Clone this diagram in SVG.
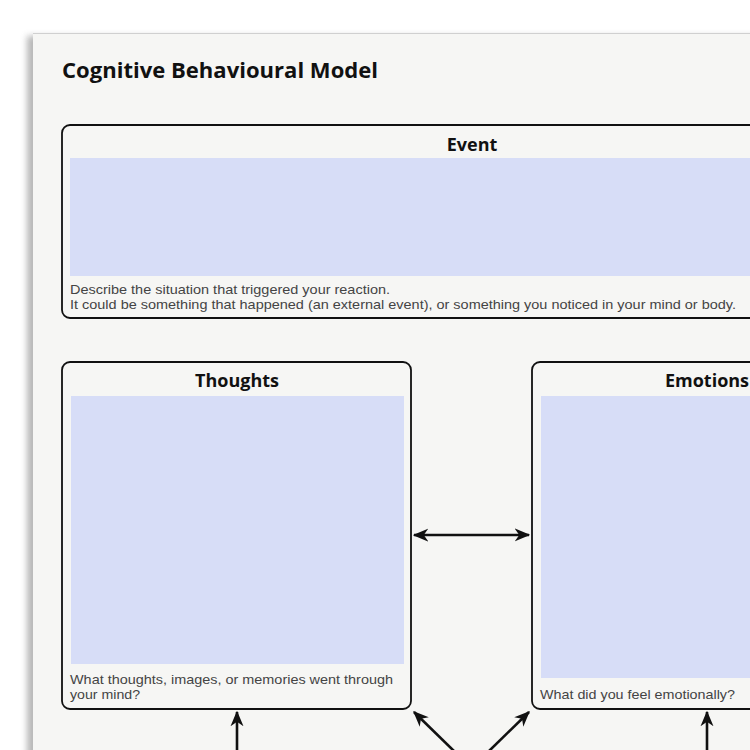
<svg xmlns="http://www.w3.org/2000/svg" width="750" height="750" viewBox="0 0 750 750">
  <defs>
    <style>
      .box { fill: none; stroke: #111; stroke-width: 1.8; }
      .area { fill: #d7ddf7; }
      .title { font-family: "Open Sans", "Liberation Sans", sans-serif; font-weight: bold; font-size: 18px; fill: #111; text-anchor: middle; }
      .desc { font-family: "Liberation Sans", "Open Sans", sans-serif; font-size: 13px; fill: #444; }
      .conn { stroke: #111; stroke-width: 2.6; fill: none; }
    </style>
    <marker id="ah" viewBox="0 0 12 10" refX="11" refY="5" markerWidth="6" markerHeight="5.5" orient="auto-start-reverse" markerUnits="strokeWidth">
      <path d="M0,0 L12,5 L0,10 L3.5,5 z" fill="#111"/>
    </marker>
    <filter id="sh" x="-10%" y="-10%" width="120%" height="120%">
      <feGaussianBlur stdDeviation="3"/>
    </filter>
  </defs>
  <rect width="750" height="750" fill="#ffffff"/>
  <rect x="27" y="36" width="760" height="760" fill="#9a9a9a" filter="url(#sh)" opacity="0.7"/>
  <rect x="33" y="33" width="760" height="760" fill="#f6f6f4"/>
  <line x1="33" y1="33.5" x2="750" y2="33.5" stroke="#d0d0d0" stroke-width="1"/>

  <text x="62" y="78" font-family="Open Sans, Liberation Sans, sans-serif" font-weight="bold" font-size="21" fill="#111" textLength="316" lengthAdjust="spacingAndGlyphs">Cognitive Behavioural Model</text>

  <g id="event">
    <rect class="box" x="62" y="125" width="820" height="193" rx="8"/>
    <rect class="area" x="70" y="158" width="810" height="118"/>
    <text class="title" x="472" y="151">Event</text>
    <text class="desc" x="70" y="294" textLength="320" lengthAdjust="spacingAndGlyphs">Describe the situation that triggered your reaction.</text>
    <text class="desc" x="70" y="309" textLength="666" lengthAdjust="spacingAndGlyphs">It could be something that happened (an external event), or something you noticed in your mind or body.</text>
  </g>

  <g id="thoughts">
    <rect class="box" x="62" y="362" width="349" height="347" rx="8"/>
    <rect class="area" x="71" y="396" width="333" height="268"/>
    <text class="title" x="237" y="387">Thoughts</text>
    <text class="desc" x="70" y="684" textLength="323" lengthAdjust="spacingAndGlyphs">What thoughts, images, or memories went through</text>
    <text class="desc" x="70" y="699" textLength="70" lengthAdjust="spacingAndGlyphs">your mind?</text>
  </g>

  <g id="emotions">
    <rect class="box" x="532" y="362" width="349" height="347" rx="8"/>
    <rect class="area" x="541" y="396" width="333" height="282"/>
    <text class="title" x="707" y="387">Emotions</text>
    <text class="desc" x="540" y="699" textLength="195" lengthAdjust="spacingAndGlyphs">What did you feel emotionally?</text>
  </g>

  <g id="connectors">
    <line class="conn" x1="414" y1="535" x2="529" y2="535" marker-start="url(#ah)" marker-end="url(#ah)"/>
    <line class="conn" x1="237" y1="752" x2="237" y2="712" marker-end="url(#ah)"/>
    <line class="conn" x1="707" y1="752" x2="707" y2="712" marker-end="url(#ah)"/>
    <line class="conn" x1="455" y1="752" x2="414" y2="712" marker-end="url(#ah)"/>
    <line class="conn" x1="488" y1="752" x2="529" y2="712" marker-end="url(#ah)"/>
  </g>
</svg>
